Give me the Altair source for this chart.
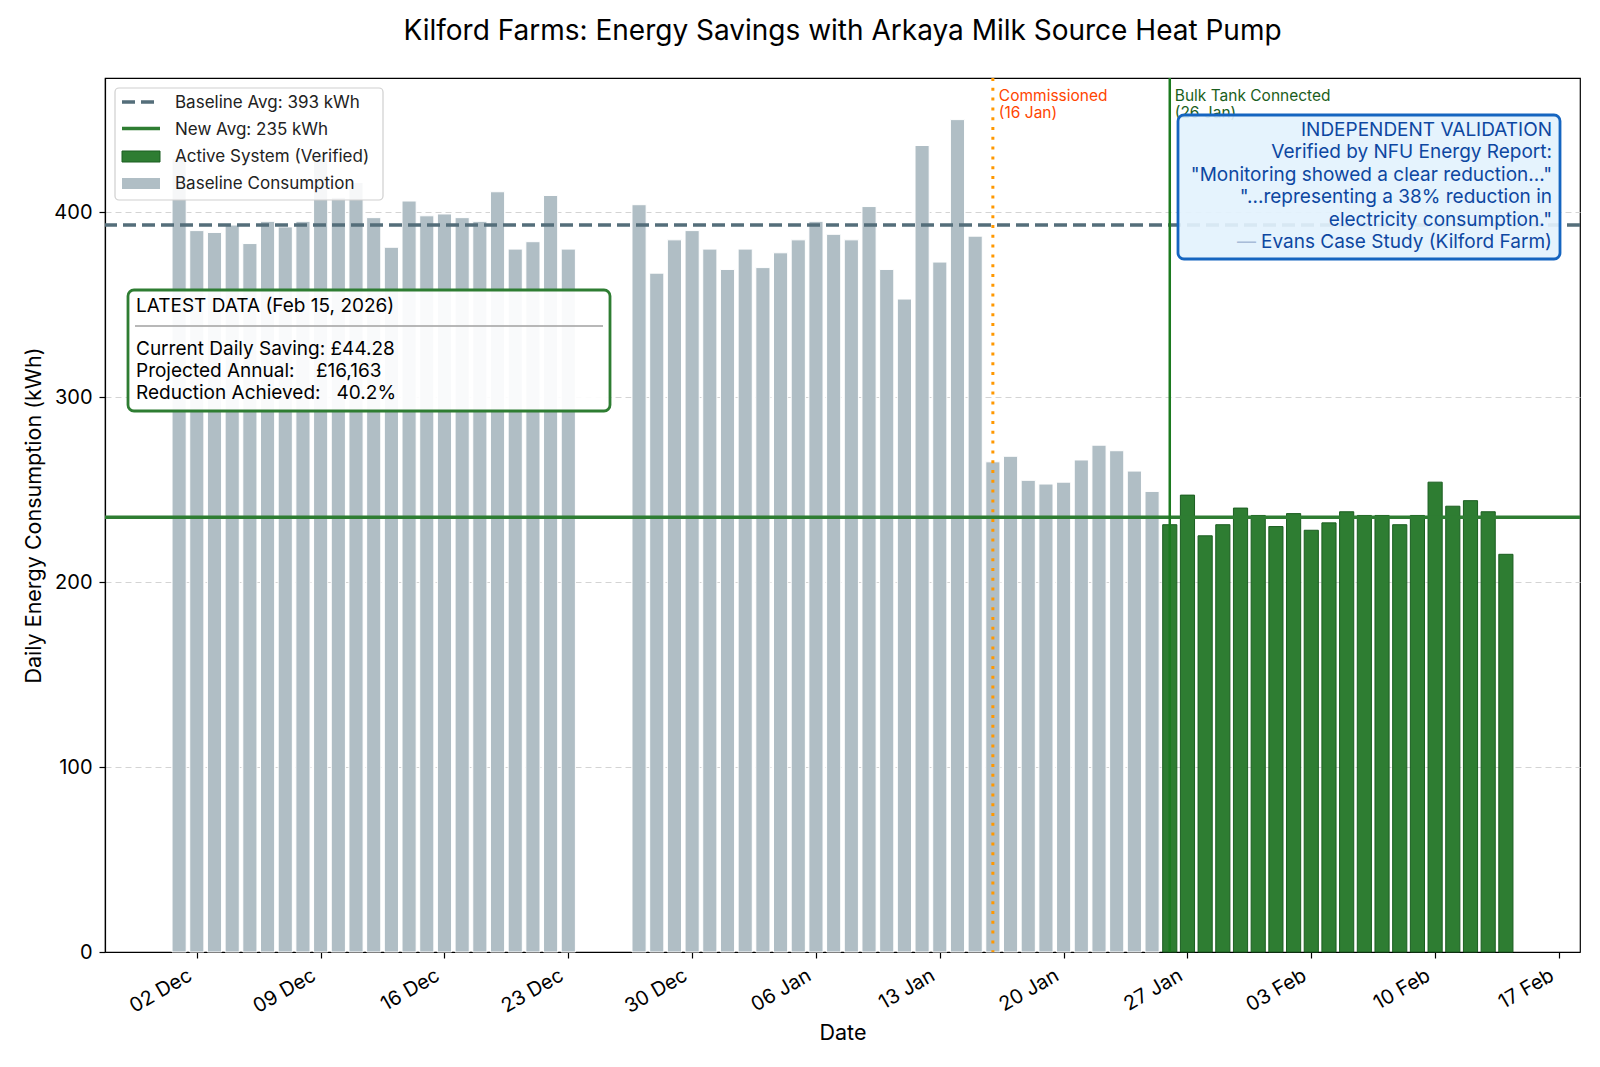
import altair as alt
import pandas as pd

FONT = "Inter"

# ---------------- data ----------------
baseline_start_1 = "2025-12-01"
baseline_vals_1 = [429, 390, 389, 393, 383, 395, 392, 395, 431, 408, 416, 397,
                   381, 406, 398, 399, 397, 395, 411, 380, 384, 409, 380]
baseline_start_2 = "2025-12-27"
baseline_vals_2 = [404, 367, 385, 390, 380, 369, 380, 370, 378, 385, 395, 388,
                   385, 403, 369, 353, 436, 373, 450, 387]
transition_start = "2026-01-16"
transition_vals = [265, 268, 255, 253, 254, 266, 274, 271, 260, 249]
active_start = "2026-01-26"
active_vals = [231, 247, 225, 231, 240, 236, 230, 237, 228, 232, 238, 236,
               236, 231, 236, 254, 241, 244, 238, 215]

group_names = ["Baseline Consumption", "Active System (Verified)"]
group_colors = ["#b0bec5", "#2e7d32"]
group_edges = ["#ffffff", "#1b5e20"]

commission_date = "2026-01-16"
commission_label = "Commissioned\n(16 Jan)"
bulk_date = "2026-01-26"
bulk_label = "Bulk Tank Connected\n(26 Jan)"

tick_dates = list(pd.date_range("2025-12-02", "2026-02-17", freq="7D"))
y_ticks = [0, 100, 200, 300, 400]

title_text = "Kilford Farms: Energy Savings with Arkaya Milk Source Heat Pump"
latest_title = "LATEST DATA (Feb 15, 2026)"
latest_lines = ["Current Daily Saving: £44.28",
                "Projected Annual:\u00a0\u00a0\u00a0\u00a0£16,163",
                "Reduction Achieved:\u00a0\u00a0\u00a040.2%"]
validation_lines = ["INDEPENDENT VALIDATION",
                    "Verified by NFU Energy Report:",
                    "\"Monitoring showed a clear reduction...\"",
                    "\"...representing a 38% reduction in",
                    "electricity consumption.\"",
                    "Evans Case Study (Kilford Farm)"]
validation_dash = "\u2014"

# ---------------- frame ----------------
baseline_all = baseline_vals_1 + baseline_vals_2
baseline_avg = round(sum(baseline_all) / len(baseline_all))
new_avg = round(sum(active_vals) / len(active_vals))
legend_labels = [f"Baseline Avg: {baseline_avg} kWh", f"New Avg: {new_avg} kWh",
                 "Active System (Verified)", "Baseline Consumption"]


def seg(start, vals, group):
    d = pd.date_range(start, periods=len(vals), freq="D")
    return pd.DataFrame({"date": d, "value": vals, "group": group})


df = pd.concat([
    seg(baseline_start_1, baseline_vals_1, group_names[0]),
    seg(baseline_start_2, baseline_vals_2, group_names[0]),
    seg(transition_start, transition_vals, group_names[0]),
    seg(active_start, active_vals, group_names[1]),
], ignore_index=True)
half = pd.Timedelta(hours=9.6)
df["start"] = df["date"] - half
df["end"] = df["date"] + half
df["zero"] = 0

xmin, xmax = df["start"].min(), df["end"].max()
marg = (xmax - xmin) * 0.05
dmin, dmax = xmin - marg, xmax + marg
ymax = max(df["value"]) * 1.05


def dt(ts):
    ts = pd.Timestamp(ts)
    return alt.DateTime(year=ts.year, month=ts.month, date=ts.day,
                        hours=ts.hour, minutes=ts.minute, seconds=ts.second)


xscale = alt.Scale(domain=[dt(dmin), dt(dmax)])
yscale = alt.Scale(domain=[0, ymax], nice=False)

W, H = 1475, 874

bars = alt.Chart(df).mark_bar(strokeWidth=1).encode(
    x=alt.X("start:T", scale=xscale, title="Date",
            axis=alt.Axis(values=[dt(t) for t in tick_dates], format="%d %b",
                          labelAngle=-30, labelAlign="right", labelBaseline="top",
                          labelOffset=-12, labelPadding=7, grid=False,
                          titlePadding=6)),
    x2="end:T",
    y=alt.Y("value:Q", scale=yscale, title="Daily Energy Consumption (kWh)",
            axis=alt.Axis(values=y_ticks, grid=True, gridDash=[6, 4],
                          gridColor="#d4d4d4", labelPadding=7, titlePadding=8)),
    y2="zero:Q",
    color=alt.Color("group:N", scale=alt.Scale(domain=group_names, range=group_colors), legend=None),
    stroke=alt.Stroke("group:N", scale=alt.Scale(domain=group_names, range=group_edges), legend=None),
)

base_rule = alt.Chart(pd.DataFrame({"v": [baseline_avg]})).mark_rule(
    color="#546e7a", strokeWidth=3.5, strokeDash=[13, 6]).encode(y=alt.Y("v:Q", scale=yscale))
new_rule = alt.Chart(pd.DataFrame({"v": [new_avg]})).mark_rule(
    color="#2e7d32", strokeWidth=3.5).encode(y=alt.Y("v:Q", scale=yscale))

ev1 = pd.DataFrame({"date": [pd.Timestamp(commission_date)], "label": [commission_label]})
ev2 = pd.DataFrame({"date": [pd.Timestamp(bulk_date)], "label": [bulk_label]})
comm_rule = alt.Chart(ev1).mark_rule(color="#ff9800", strokeWidth=3, strokeDash=[3, 6.8]).encode(
    x=alt.X("date:T", scale=xscale))
bulk_rule = alt.Chart(ev2).mark_rule(color="#1b7a1f", strokeWidth=2.5).encode(
    x=alt.X("date:T", scale=xscale))
comm_text = alt.Chart(ev1).mark_text(align="left", baseline="alphabetic", dx=6, lineBreak="\n",
                                     lineHeight=17, fontSize=15.5, font=FONT, color="#ff4500").encode(
    x=alt.X("date:T", scale=xscale), y=alt.value(23), text="label:N")
bulk_text = alt.Chart(ev2).mark_text(align="left", baseline="alphabetic", dx=5, lineBreak="\n",
                                     lineHeight=17, fontSize=15.5, font=FONT, color="#1b5e20").encode(
    x=alt.X("date:T", scale=xscale), y=alt.value(23), text="label:N")

one = alt.Data(values=[{}])

# legend (drawn by hand)
leg_box = alt.Chart(one).mark_rect(fill="white", fillOpacity=0.88, stroke="#cfcfcf", strokeWidth=1.2,
                                   cornerRadius=4).encode(
    x=alt.value(10), x2=alt.value(278), y=alt.value(10), y2=alt.value(122))
leg_l1 = alt.Chart(one).mark_rule(color="#546e7a", strokeWidth=3.5, strokeDash=[13, 6]).encode(
    x=alt.value(17), x2=alt.value(55), y=alt.value(24))
leg_l2 = alt.Chart(one).mark_rule(color="#2e7d32", strokeWidth=3.5).encode(
    x=alt.value(17), x2=alt.value(55), y=alt.value(50.5))
leg_r1 = alt.Chart(one).mark_rect(fill=group_colors[1], stroke=group_edges[1], strokeWidth=1).encode(
    x=alt.value(17), x2=alt.value(55), y=alt.value(73), y2=alt.value(84))
leg_r2 = alt.Chart(one).mark_rect(fill=group_colors[0]).encode(
    x=alt.value(17), x2=alt.value(55), y=alt.value(100), y2=alt.value(111))
leg_txt = alt.Chart(one).mark_text(align="left", baseline="alphabetic", lineBreak="\n", lineHeight=27,
                                   fontSize=17, font=FONT, color="#222222").encode(
    x=alt.value(70), y=alt.value(30), text=alt.value("\n".join(legend_labels)))

# latest data box
lat_box = alt.Chart(one).mark_rect(fill="white", fillOpacity=0.92, stroke="#2e7d32", strokeWidth=2.8,
                                   cornerRadius=6).encode(
    x=alt.value(23), x2=alt.value(505), y=alt.value(212), y2=alt.value(333))
lat_title = alt.Chart(one).mark_text(align="left", baseline="alphabetic", fontSize=19, font=FONT,
                                     color="black").encode(
    x=alt.value(31), y=alt.value(234), text=alt.value(latest_title))
lat_sep = alt.Chart(one).mark_rule(color="#a0a0a0", strokeWidth=1.3).encode(
    x=alt.value(30), x2=alt.value(498), y=alt.value(248))
lat_txt = alt.Chart(one).mark_text(align="left", baseline="alphabetic", lineBreak="\n", lineHeight=22,
                                   fontSize=19, font=FONT, color="black").encode(
    x=alt.value(31), y=alt.value(277), text=alt.value("\n".join(latest_lines)))

# validation box
VX = 1447
val_box = alt.Chart(one).mark_rect(fill="#e3f2fd", fillOpacity=0.92, stroke="#1565c0", strokeWidth=2.8,
                                   cornerRadius=6).encode(
    x=alt.value(1073), x2=alt.value(1455), y=alt.value(37), y2=alt.value(181))
val_txt = alt.Chart(one).mark_text(align="right", baseline="alphabetic", lineBreak="\n", lineHeight=22.4,
                                   fontSize=19, font=FONT, color="#0d47a1").encode(
    x=alt.value(VX), y=alt.value(58), text=alt.value("\n".join(validation_lines)))
val_dash = alt.Chart(one).mark_text(align="right", baseline="alphabetic",
                                    fontSize=19, font=FONT, color="#a8bcd8").encode(
    x=alt.value(1151), y=alt.value(58 + 5 * 22.4), text=alt.value(validation_dash))

chart = alt.layer(
    bars, base_rule, new_rule, comm_rule, bulk_rule, comm_text, bulk_text,
    leg_box, leg_l1, leg_l2, leg_r1, leg_r2, leg_txt,
    lat_box, lat_title, lat_sep, lat_txt,
    val_box, val_txt, val_dash,
).properties(
    width=W, height=H,
    background="white",
    title=alt.Title(title_text, fontSize=28, font=FONT, fontWeight="normal", color="black",
                    anchor="middle", frame="group", offset=31),
    autosize=alt.AutoSizeParams(type="none"),
    padding={"left": 97, "top": 70, "right": 4, "bottom": 100},
).configure_view(
    stroke="black", strokeWidth=1.2
).configure_axis(
    labelFont=FONT, titleFont=FONT, labelFontSize=20, titleFontSize=21.5,
    titleFontWeight="normal", labelColor="black", titleColor="black",
    tickColor="black", domainColor="black", tickSize=6, tickWidth=1.2, domainWidth=1.2,
)

chart.save("out.html", embed_options={"renderer": "svg", "actions": False})
